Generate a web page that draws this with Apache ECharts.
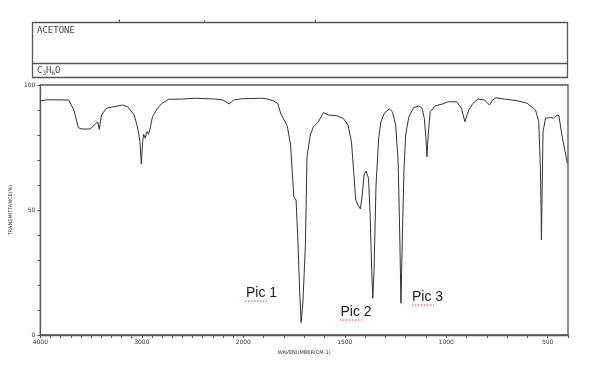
<!DOCTYPE html>
<html>
<head>
<meta charset="utf-8">
<script src="https://cdn.jsdelivr.net/npm/echarts@6/dist/echarts.min.js"></script>
<style>
html,body{margin:0;padding:0;background:#fff;}
#chart{width:589px;height:368px;}
</style>
</head>
<body>
<div id="chart"></div>
<script>
// ---- data (acetone IR) ----
const wavenumber = [4000, 3930, 3720, 3670, 3625, 3590, 3510, 3460, 3435, 3420, 3397, 3350, 3190, 3140, 3075, 3040, 3018, 3005, 2992, 2982, 2967, 2950, 2934, 2918, 2895, 2846, 2800, 2735, 2600, 2475, 2280, 2200, 2140, 2095, 2020, 1910, 1880, 1850, 1830, 1816, 1783, 1767, 1751, 1740, 1732, 1722, 1715, 1706, 1694, 1686, 1670, 1654, 1630, 1605, 1581, 1540, 1508, 1484, 1467, 1456, 1446, 1435, 1423, 1414, 1405, 1395, 1383, 1375, 1367, 1362, 1356, 1346, 1333, 1322, 1305, 1281, 1265, 1249, 1237, 1229, 1223, 1216, 1208, 1200, 1184, 1160, 1135, 1119, 1108, 1100, 1095, 1089, 1079, 1054, 1022, 990, 949, 925, 908, 900, 889, 868, 844, 811, 787, 771, 755, 714, 650, 601, 560, 544, 536, 532, 531, 526, 523, 511, 487, 471, 455, 445, 430, 414, 403];
const transmittance = [93.7, 94.1, 94.0, 90.0, 82.9, 82.4, 82.4, 84.3, 85.3, 82.3, 88.0, 90.7, 92.0, 91.3, 88.0, 82.7, 77.3, 68.4, 77.3, 80.3, 78.7, 81.3, 80.3, 82.7, 87.3, 90.7, 92.7, 94.3, 94.4, 94.7, 94.4, 94.0, 92.4, 94.0, 94.5, 94.7, 94.4, 93.6, 92.6, 88.7, 83.5, 76.0, 55.3, 54.0, 40.0, 17.3, 5.0, 13.3, 36.0, 71.3, 80.0, 83.3, 85.3, 89.0, 88.0, 87.7, 86.7, 84.0, 77.3, 65.3, 54.0, 52.0, 50.4, 56.0, 64.0, 65.6, 62.7, 48.0, 25.3, 14.7, 25.3, 60.0, 78.7, 85.3, 88.7, 90.4, 89.3, 84.0, 69.3, 40.0, 12.7, 40.0, 66.7, 80.0, 87.3, 91.0, 91.6, 90.7, 86.7, 78.7, 71.3, 80.0, 89.3, 91.7, 92.3, 93.3, 93.3, 90.7, 85.3, 84.7, 90.0, 92.7, 94.4, 94.0, 92.0, 94.0, 94.9, 94.4, 93.7, 92.7, 90.0, 85.3, 66.7, 46.7, 38.0, 65.3, 81.3, 86.7, 87.0, 86.7, 88.0, 87.7, 80.0, 73.3, 68.7];
const xLabelValues = [4000, 3000, 2000, 1500, 1000, 500];
const yLabelValues = [0, 50, 100];
const compoundName = 'ACETONE';
const peakLabels = ['Pic 1', 'Pic 2', 'Pic 3'];

// IR chart scale: 4000-2000 is compressed by half relative to 2000-400
function toU(w) { return w >= 2000 ? (4000 - w) / 2 : 1000 + (2000 - w); }
function fromU(u) { return u <= 1000 ? 4000 - 2 * u : 2000 - (u - 1000); }

const seriesData = wavenumber.map((w, i) => [toU(w), transmittance[i]]);
const tickU = [];
for (let w = 4000; w >= 400; w -= 100) tickU.push(toU(w));
const labelU = xLabelValues.map(toU);

const tiny = { fontFamily: 'DejaVu Sans', fontSize: 6, color: '#333' };
const squiggle = { stroke: '#ff2a2a', lineWidth: 1, lineDash: [1.5, 1.5] };

const chart = echarts.init(document.getElementById('chart'), null, { renderer: 'canvas' });
chart.setOption({
  animation: false,
  backgroundColor: '#fff',
  grid: { left: 33, top: 85, right: 21, bottom: 33, show: true, borderColor: '#555', borderWidth: 1.3, backgroundColor: 'transparent' },
  xAxis: {
    type: 'value', min: 0, max: toU(400),
    axisLine: { show: true, lineStyle: { color: '#555', width: 1.3 } },
    axisTick: { show: true, length: 3, inside: false, customValues: tickU, lineStyle: { color: '#555' } },
    splitLine: { show: false },
    axisLabel: Object.assign({ customValues: labelU, margin: 4, formatter: v => String(Math.round(fromU(v))) }, tiny),
    name: 'WAVENUMBER(CM-1)', nameLocation: 'middle', nameGap: 15,
    nameTextStyle: { fontFamily: 'DejaVu Sans', fontSize: 5, color: '#333', padding: [0, 0, 0, 0] }
  },
  yAxis: {
    type: 'value', min: 0, max: 100, interval: 10,
    axisLine: { show: true, lineStyle: { color: '#555', width: 1.3 } },
    axisTick: { show: true, length: 3, lineStyle: { color: '#555' } },
    splitLine: { show: false },
    axisLabel: Object.assign({ margin: 5, formatter: v => (yLabelValues.indexOf(v) >= 0 ? String(v) : '') }, tiny),
    name: 'TRANSMITTANCE(%)', nameLocation: 'middle', nameGap: 20, nameRotate: 90,
    nameTextStyle: { fontFamily: 'DejaVu Sans', fontSize: 5, color: '#333' }
  },
  series: [{
    type: 'line', data: seriesData, showSymbol: false, smooth: false,
    lineStyle: { color: '#333', width: 1 }, silent: true
  }],
  graphic: [
    { type: 'rect', shape: { x: 32.5, y: 22.5, width: 535, height: 55 }, style: { fill: 'none', stroke: '#555', lineWidth: 1.3 } },
    { type: 'line', shape: { x1: 32.5, y1: 63.5, x2: 567.5, y2: 63.5 }, style: { stroke: '#555', lineWidth: 1.3 } },
    { type: 'line', shape: { x1: 119.5, y1: 19.5, x2: 119.5, y2: 22.5 }, style: { stroke: '#555', lineWidth: 1 } },
    { type: 'line', shape: { x1: 204.5, y1: 20.5, x2: 204.5, y2: 22.5 }, style: { stroke: '#555', lineWidth: 1 } },
    { type: 'line', shape: { x1: 315.5, y1: 19.5, x2: 315.5, y2: 22.5 }, style: { stroke: '#555', lineWidth: 1 } },
    { type: 'text', style: { text: compoundName, x: 37, y: 31, fontFamily: 'DejaVu Sans Mono', fontSize: 9, fill: '#444', textVerticalAlign: 'middle' } },
    { type: 'text', style: {
        text: '{n|C}{s|3}{n|H}{s|6}{n|O}', x: 37, y: 71, textVerticalAlign: 'middle',
        rich: {
          n: { fontFamily: 'DejaVu Sans Mono', fontSize: 9, fill: '#444', color: '#444' },
          s: { fontFamily: 'DejaVu Sans Mono', fontSize: 6, fill: '#444', color: '#444', verticalAlign: 'bottom', padding: [4, 0, 0, 0] }
        } } },
    { type: 'text', style: { text: peakLabels[0], x: 246, y: 293, fontFamily: 'Liberation Sans', fontSize: 14, fill: '#222', textVerticalAlign: 'middle' } },
    { type: 'text', style: { text: peakLabels[1], x: 340.5, y: 312, fontFamily: 'Liberation Sans', fontSize: 14, fill: '#222', textVerticalAlign: 'middle' } },
    { type: 'text', style: { text: peakLabels[2], x: 412, y: 297.5, fontFamily: 'Liberation Sans', fontSize: 14, fill: '#222', textVerticalAlign: 'middle' } },
    { type: 'line', z: 200, shape: { x1: 245, y1: 301, x2: 267, y2: 301 }, style: squiggle },
    { type: 'line', z: 200, shape: { x1: 340, y1: 320, x2: 362, y2: 320 }, style: squiggle },
    { type: 'line', z: 200, shape: { x1: 412, y1: 305, x2: 434, y2: 305 }, style: squiggle }
  ]
});
</script>
</body>
</html>
